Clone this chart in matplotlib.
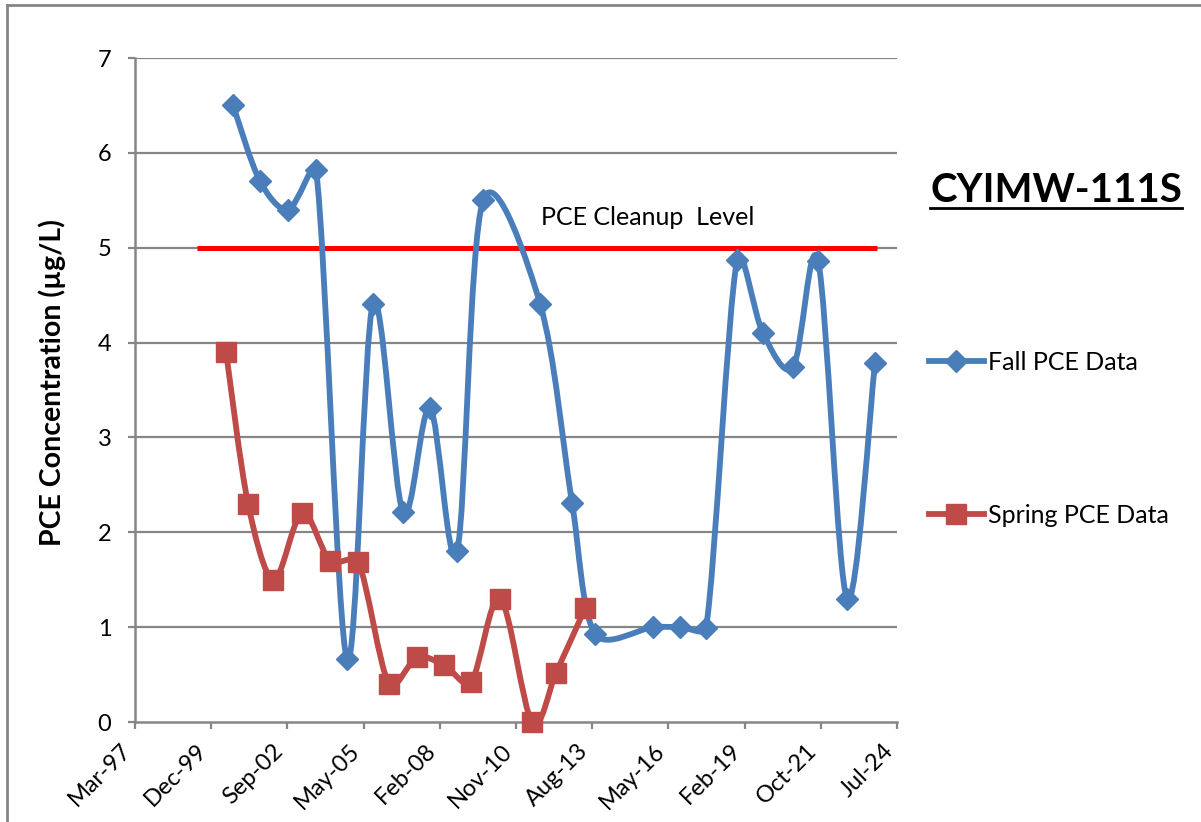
import numpy as np
import matplotlib
matplotlib.use("Agg")
import matplotlib.pyplot as plt
import matplotlib.dates as mdates
import matplotlib.transforms as mtransforms
from matplotlib.path import Path
from matplotlib.patches import PathPatch
from matplotlib.lines import Line2D
import datetime as dt

plt.rcParams['font.family'] = ['Lato', 'DejaVu Sans']

# data
fall_dates = ['2000-09-18', '2001-09-07', '2002-09-10', '2003-09-12', '2004-10-23',
              '2005-09-29', '2006-10-28', '2007-10-17', '2008-10-06', '2009-09-12',
              '2011-09-30', '2012-11-23', '2013-09-21', '2015-10-21', '2016-10-10',
              '2017-09-16', '2018-10-28', '2019-10-03', '2020-11-01', '2021-09-25',
              '2022-10-11', '2023-10-12']
fall_pce = [6.5, 5.7, 5.4, 5.82, 0.66, 4.41, 2.21, 3.31, 1.8, 5.5,
            4.41, 2.31, 0.93, 1.0, 1.0, 0.99, 4.87, 4.1, 3.74, 4.86,
            1.3, 3.78]

spring_dates = ['2000-06-18', '2001-04-03', '2002-03-01', '2003-03-13', '2004-03-14',
                '2005-03-17', '2006-04-27', '2007-04-30', '2008-04-18', '2009-04-07',
                '2010-04-23', '2011-06-17', '2012-04-27', '2013-05-13']
spring_pce = [3.9, 2.3, 1.5, 2.2, 1.7, 1.69, 0.4, 0.68, 0.6, 0.42,
              1.3, 0.0, 0.52, 1.2]

cleanup_dates = ['1999-06-03', '2023-11-08']
cleanup_level = 5

axis_start = '1997-03-11'
tick_step_days = 1000
n_ticks = 11

blue = '#4A7EBB'
red = '#BE4B48'
grey = '#868686'


def to_num(ds):
    return mdates.date2num([dt.datetime.strptime(d, '%Y-%m-%d') for d in ds])


def smooth_path(ax, x, y, cap=1 / 3.0):
    # excel-like smoothing in screen space: catmull-rom handles,
    # shortened when they get long compared with the segment
    pts = ax.transData.transform(np.column_stack([x, y]))
    n = len(pts)
    out_c = []
    in_c = []
    for i in range(n):
        p = pts[i]
        prev = pts[i - 1] if i > 0 else p
        nxt = pts[i + 1] if i < n - 1 else p
        h = (nxt - prev) / 6.0
        hl = np.hypot(*h)
        d_in = np.hypot(*(p - prev))
        d_out = np.hypot(*(nxt - p))
        if hl == 0:
            out_c.append(p)
            in_c.append(p)
            continue
        ho = h * min(1.0, cap * d_out / hl) if d_out > 0 else h
        hi = h * min(1.0, cap * d_in / hl) if d_in > 0 else h
        out_c.append(p + ho)
        in_c.append(p - hi)
    verts = [pts[0]]
    codes = [Path.MOVETO]
    for i in range(n - 1):
        verts += [out_c[i], in_c[i + 1], pts[i + 1]]
        codes += [Path.CURVE4] * 3
    verts = ax.transData.inverted().transform(np.array(verts))
    return Path(verts, codes)


W, H = 1201, 822
fig = plt.figure(figsize=(W / 100, H / 100), dpi=100)
ax = fig.add_axes([135 / W, 1 - 722 / H, (897 - 135) / W, (722 - 58) / H])

x0 = mdates.date2num(dt.datetime.strptime(axis_start, '%Y-%m-%d'))
ticks = [x0 + k * tick_step_days for k in range(n_ticks)]
ax.set_xlim(ticks[0], ticks[-1])
ax.set_ylim(0, 7)

for yv in range(1, 8):
    ax.axhline(yv, color=grey, lw=1.6, zorder=1)

fx = to_num(fall_dates)
sx = to_num(spring_dates)

ax.add_patch(PathPatch(smooth_path(ax, fx, fall_pce), fc='none', ec=blue, lw=4.2,
                       capstyle='round', joinstyle='round', zorder=3, clip_on=False))
ax.plot(fx, fall_pce, ls='none', marker='D', ms=11, color=blue, zorder=4, clip_on=False)

ax.add_patch(PathPatch(smooth_path(ax, sx, spring_pce), fc='none', ec=red, lw=4.2,
                       capstyle='round', joinstyle='round', zorder=3, clip_on=False))
ax.plot(sx, spring_pce, ls='none', marker='s', ms=14, color=red, zorder=4, clip_on=False)

cx = to_num(cleanup_dates)
ax.plot(cx, [cleanup_level, cleanup_level], color='#FF0000', lw=3.6, zorder=2,
        solid_capstyle='butt')
blend = mtransforms.blended_transform_factory(ax.transAxes, ax.transData)
ax.text(0.673, 5.32, 'PCE Cleanup  Level', ha='center', va='center',
        fontsize=18, color='black', transform=blend)

ax.set_xticks(ticks)
ax.set_xticklabels([mdates.num2date(t).strftime('%b-%y') for t in ticks],
                   rotation=45, ha='right', va='top', fontsize=17)
ax.set_yticks(range(0, 8))
ax.set_yticklabels([str(v) for v in range(0, 8)], fontsize=17)
ax.tick_params(axis='both', direction='out', length=5, width=1.6, color=grey)
ax.tick_params(axis='y', pad=12)
ax.tick_params(axis='x', pad=8)

for s in ['top', 'right']:
    ax.spines[s].set_visible(False)
for s in ['left', 'bottom']:
    ax.spines[s].set_color(grey)
    ax.spines[s].set_linewidth(1.8)

fig.text(52 / W, 1 - 383 / H, 'PCE Concentration (µg/L)', rotation=90,
         ha='center', va='center', fontsize=20.5, fontweight='bold')

title = fig.text(1056 / W, 1 - 191 / H, 'CYIMW-111S', ha='center', va='center',
                 fontsize=29, fontweight='bold')

handles = [Line2D([], [], color=blue, lw=4.2, marker='D', ms=11),
           Line2D([], [], color=red, lw=4.2, marker='s', ms=14)]
fig.legend(handles, ['Fall PCE Data', 'Spring PCE Data'], loc='center left',
           bbox_to_anchor=(929 / W, 1 - 439 / H), frameon=False, fontsize=18,
           handlelength=2.2, handletextpad=0.15, labelspacing=5.2, borderpad=0,
           borderaxespad=0, numpoints=1)

# frame lines (top and left only visible)
fig.add_artist(Line2D([7 / W, 1], [1 - 5 / H, 1 - 5 / H], color=grey, lw=2))
fig.add_artist(Line2D([7 / W, 7 / W], [0, 1 - 5 / H], color=grey, lw=2))

# underline the title
fig.canvas.draw()
bb = title.get_window_extent(fig.canvas.get_renderer())
uy = (bb.y0 + 1) / H
fig.add_artist(Line2D([bb.x0 / W, bb.x1 / W], [uy, uy], color='black', lw=2))

fig.savefig('out.png', dpi=100)
